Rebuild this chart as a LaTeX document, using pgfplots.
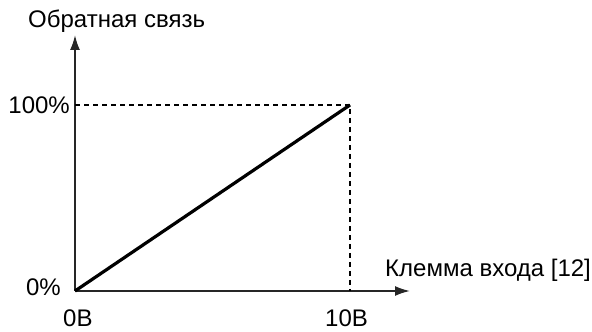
\documentclass[border=0pt]{standalone}
\usepackage{fontspec}
\setmainfont{Liberation Sans}
\usepackage{pgfplots}
\pgfplotsset{compat=1.18}
\usetikzlibrary{arrows.meta}
\begin{document}
\begin{tikzpicture}[x=1pt,y=1pt]
\useasboundingbox (0,0) rectangle (592,332);
\begin{axis}[
  at={(75pt,41pt)}, anchor=south west,
  scale only axis, width=335pt, height=256pt,
  xmin=0, xmax=12.18, ymin=0, ymax=137.6,
  axis lines=left,
  axis line style={line width=1.8pt, black!85, -{Latex[length=15pt,width=10pt]}},
  xtick=\empty, ytick=\empty,
  clip=false,
]
\addplot[line width=1.4pt, black, dash pattern=on 5pt off 4pt] coordinates {(0,100) (10,100) (10,0)};
\addplot[line width=3.2pt, black] coordinates {(0,0) (10,100)};
\end{axis}
\fontsize{24}{28}\selectfont
\node[anchor=base west, inner sep=0pt] at (28,304) {Обратная связь};
\node[anchor=base east, inner sep=0pt] at (70,218) {100\%};
\node[anchor=base east, inner sep=0pt] at (61,36) {0\%};
\node[anchor=base west, inner sep=0pt] at (63,5) {0В};
\node[anchor=base west, inner sep=0pt] at (325,5) {10В};
\node[anchor=base west, inner sep=0pt] at (385,55) {Клемма входа [12]};
\end{tikzpicture}
\end{document}
